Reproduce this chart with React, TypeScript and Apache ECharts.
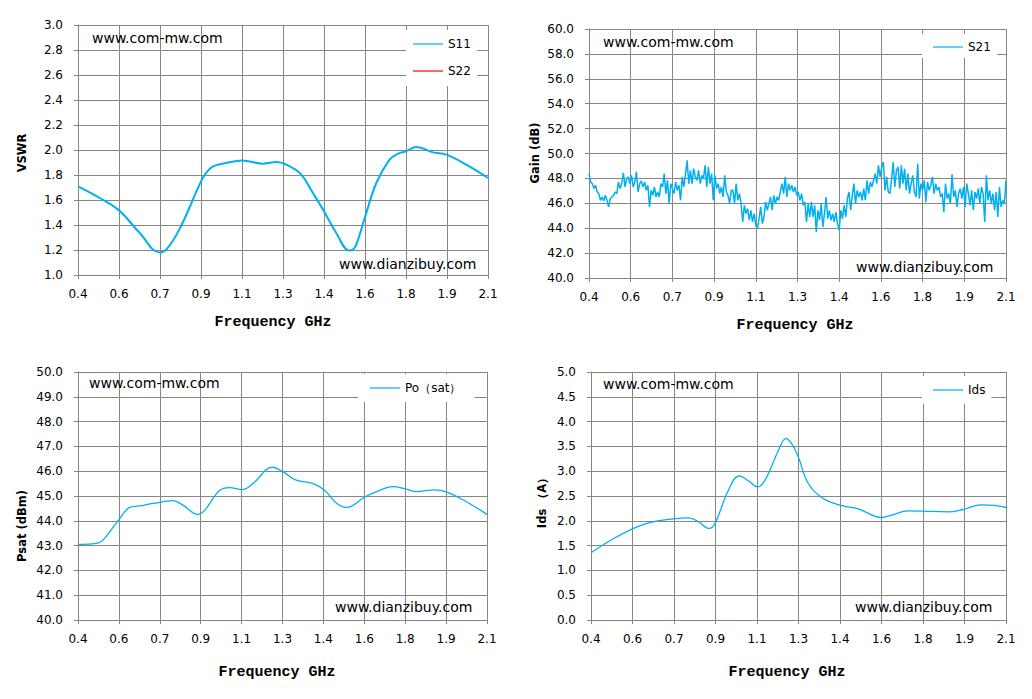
import React, { useEffect, useRef } from 'react';
import * as echarts from 'echarts';

// x axis: 11 evenly spaced ticks from 0.4 to 2.1 GHz, labels rounded to 1 decimal
const freqTickLabels = ['0.4', '0.6', '0.7', '0.9', '1.1', '1.3', '1.4', '1.6', '1.8', '1.9', '2.1'];
const F_START = 0.4;
const F_STOP = 2.1;
const TICK_STEP = 0.17;

// VSWR
const s11Freq = [0.4, 0.49, 0.57, 0.656, 0.739, 0.766, 0.82, 0.91, 0.931, 0.96, 1.015, 1.08, 1.167, 1.222, 1.278, 1.326, 1.374, 1.416, 1.471, 1.524, 1.54, 1.554, 1.589, 1.637, 1.692, 1.727, 1.759, 1.803, 1.872, 1.927, 2.01, 2.1];
const s11Vswr = [1.709, 1.616, 1.517, 1.336, 1.181, 1.203, 1.363, 1.749, 1.816, 1.869, 1.896, 1.917, 1.891, 1.904, 1.869, 1.803, 1.656, 1.523, 1.336, 1.197, 1.203, 1.243, 1.456, 1.736, 1.923, 1.971, 1.989, 2.024, 1.981, 1.963, 1.883, 1.776];
const s22Vswr: number[][] = [];

// Gain, sweep points evenly spaced from 0.4 to 2.1 GHz
const s21Gain = [
  48.38, 47.71, 47.58, 47.18, 47.45, 46.91, 46.78, 46.24, 46.51, 46.19, 46.64, 46.24, 45.71, 46.38, 46.51, 46.64, 46.91, 46.78, 47.71, 47.18,
  47.58, 48.44, 47.31, 47.98, 48.12, 47.58, 48.25, 47.31, 47.71, 48.52, 46.91, 47.58, 47.79, 47.31, 47.71, 47.04, 47.45, 45.71, 47.04, 46.64,
  47.31, 46.51, 46.91, 46.51, 47.58, 47.31, 48.38, 46.78, 47.85, 45.97, 47.58, 47.18, 46.78, 47.71, 47.04, 47.45, 46.24, 48.12, 47.31, 48.33,
  49.45, 47.58, 48.65, 47.58, 48.78, 48.12, 47.85, 48.65, 47.58, 48.25, 47.98, 49.05, 47.31, 48.92, 47.58, 48.38, 46.24, 48.25, 47.18, 47.58,
  46.78, 47.31, 46.51, 48.25, 46.91, 46.64, 45.97, 47.04,
  47.04, 45.97, 47.58, 46.24, 46.78, 45.97, 44.5, 45.84, 45.17, 45.57, 44.64, 45.44, 44.5, 45.17, 44.23, 43.97, 44.77, 45.71, 44.37, 44.9,
  46.11, 45.44, 45.97, 46.51, 45.44, 46.64, 45.97, 46.51, 46.24, 46.91, 47.58, 46.78, 48.12, 46.51, 47.58, 47.04, 47.45, 46.91, 47.31, 46.64,
  46.91, 46.24, 46.78, 45.84, 46.11, 44.5, 45.97, 44.9, 46.11, 44.9, 45.84, 43.7, 45.44, 44.64, 45.97, 44.1, 45.17, 46.51, 44.77, 45.44,
  44.64, 45.17, 44.5, 45.3, 44.37, 43.83, 45.44, 44.77, 45.84, 44.9, 46.38, 46.91, 45.44, 46.64, 47.58, 45.97, 47.04, 46.51, 46.91, 46.24,
  47.18,
  46.24, 47.85, 46.78, 47.71, 47.31, 47.85, 48.38, 47.58, 49.05, 48.12, 48.92, 49.32, 47.04, 48.12, 46.91, 46.78, 47.85, 49.32, 47.31, 48.65,
  48.92, 47.18, 49.05, 47.58, 48.78, 47.04, 48.38, 46.78, 47.58, 48.25, 46.91, 46.51, 49.19, 46.38, 47.58, 47.04, 47.85, 46.11, 47.71, 47.04,
  47.45, 48.12, 46.78, 47.58, 47.04, 47.31, 46.51, 46.78, 45.3, 47.58, 46.38, 46.78, 45.97, 48.33, 46.51, 47.04, 45.71, 46.78, 47.18, 46.38,
  47.31, 45.71, 47.58, 46.78, 45.84, 47.04, 45.44, 46.91, 46.38, 47.18, 45.97, 47.31, 46.78, 44.5, 48.25, 46.24, 47.04, 45.97, 46.78, 45.44,
  46.91, 44.9, 47.31, 45.71, 46.24, 45.97, 47.85,
];

// Psat (dBm)
const poFreq = [0.4, 0.476, 0.504, 0.57, 0.615, 0.656, 0.712, 0.795, 0.836, 0.899, 0.927, 0.989, 1.03, 1.082, 1.127, 1.208, 1.252, 1.307, 1.377, 1.425, 1.474, 1.515, 1.594, 1.654, 1.709, 1.765, 1.806, 1.882, 1.931, 2.014, 2.1];
const poSat = [43.05, 43.09, 43.22, 44.05, 44.54, 44.6, 44.7, 44.81, 44.63, 44.26, 44.43, 45.23, 45.34, 45.26, 45.5, 46.16, 45.97, 45.64, 45.5, 45.23, 44.72, 44.54, 44.97, 45.23, 45.38, 45.28, 45.18, 45.25, 45.17, 44.77, 44.26];

// Ids (A)
const idsFreq = [0.4, 0.486, 0.57, 0.636, 0.738, 0.8, 0.84, 0.884, 0.908, 0.963, 1.007, 1.045, 1.082, 1.113, 1.168, 1.198, 1.222, 1.249, 1.29, 1.345, 1.42, 1.495, 1.59, 1.631, 1.699, 1.761, 1.863, 1.924, 1.999, 2.053, 2.1];
const idsA = [1.356, 1.624, 1.839, 1.96, 2.04, 2.06, 1.98, 1.846, 1.946, 2.617, 2.906, 2.805, 2.685, 2.819, 3.423, 3.658, 3.557, 3.289, 2.752, 2.47, 2.315, 2.242, 2.067, 2.114, 2.2, 2.195, 2.181, 2.228, 2.322, 2.309, 2.268];

const LINE_BLUE = '#00B0F0';
const GRID_C = '#868686';
const FONT = 'DejaVu Sans';

const toTick = (f: number) => (f - F_START) / TICK_STEP;
const pairs = (fs: number[], vs: number[]) => fs.map((f, i) => [toTick(f), vs[i]]);

const xAxisFor = (gridIndex: number) => ({
  type: 'value',
  gridIndex,
  min: 0,
  max: 10,
  interval: 1,
  axisLine: { show: true, lineStyle: { color: GRID_C } },
  axisTick: { show: true, length: 4, lineStyle: { color: GRID_C } },
  splitLine: { show: true, lineStyle: { color: GRID_C, width: 1 } },
  axisLabel: {
    margin: 13,
    fontFamily: FONT,
    fontSize: 12,
    color: '#000',
    formatter: (v: number) => freqTickLabels[Math.round(v)],
  },
});

const yAxisFor = (gridIndex: number, min: number, max: number, interval: number) => ({
  type: 'value',
  gridIndex,
  min,
  max,
  interval,
  axisLine: { show: true, lineStyle: { color: GRID_C } },
  axisTick: { show: true, length: 4, lineStyle: { color: GRID_C } },
  splitLine: { show: true, lineStyle: { color: GRID_C, width: 1 } },
  axisLabel: {
    margin: 15,
    fontFamily: FONT,
    fontSize: 12,
    color: '#000',
    formatter: (v: number) => v.toFixed(1),
  },
});

const legendFor = (names: string[], left: number, top: number, padding: number[]) => ({
  data: names,
  left,
  top,
  orient: 'vertical',
  icon: 'rect',
  padding,
  itemGap: 13,
  itemWidth: 30,
  itemHeight: 1.2,
  selectedMode: false,
  backgroundColor: '#fff',
  textStyle: { fontFamily: FONT, fontSize: 12, color: '#000', lineHeight: 14 },
});

const text = (t: string, x: number, y: number, extra: any = {}) => ({
  type: 'text',
  x,
  y,
  z: 100,
  style: { text: t, fill: '#000', fontFamily: FONT, fontSize: 14, align: 'left', verticalAlign: 'middle', ...extra },
});

const yTitle = (t: string, x: number, y: number) => ({
  type: 'text',
  x,
  y,
  rotation: Math.PI / 2,
  z: 100,
  style: { text: t, fill: '#000', fontFamily: FONT, fontSize: 11.5, fontWeight: 'bold', align: 'center', verticalAlign: 'middle' },
});

const xTitle = (x: number, y: number) => ({
  type: 'text',
  x,
  y,
  z: 100,
  style: { text: 'Frequency GHz', fill: '#000', fontFamily: 'Liberation Mono', fontSize: 15, fontWeight: 'bold', align: 'center', verticalAlign: 'middle' },
});

const App: React.FC = () => {
  const chartRef = useRef<HTMLDivElement>(null);

  useEffect(() => {
    document.body.style.margin = '0';
    const chart = echarts.init(chartRef.current!, null, { renderer: 'svg' });

    const s21Data = s21Gain.map((v, i) => [toTick(F_START + ((F_STOP - F_START) * i) / (s21Gain.length - 1)), v]);

    const options = {
      animation: false,
      backgroundColor: '#fff',
      grid: [
        { left: 78, top: 25, width: 410, height: 250 },
        { left: 589, top: 29, width: 417, height: 249 },
        { left: 78, top: 372, width: 409, height: 248 },
        { left: 591, top: 372, width: 415, height: 248 },
      ],
      xAxis: [xAxisFor(0), xAxisFor(1), xAxisFor(2), xAxisFor(3)],
      yAxis: [
        yAxisFor(0, 1, 3, 0.2),
        yAxisFor(1, 40, 60, 2),
        yAxisFor(2, 40, 50, 1),
        yAxisFor(3, 0, 5, 0.5),
      ],
      legend: [
        legendFor(['S11', 'S22'], 406, 30, [7, 6, 8, 7]),
        legendFor(['S21'], 922, 34, [6, 6, 4, 11]),
        legendFor(['Po（sat）'], 358, 374, [7, 13, 7, 12]),
        legendFor(['Ids'], 922, 376, [7, 6, 7, 11]),
      ],
      series: [
        {
          name: 'S11', type: 'line', xAxisIndex: 0, yAxisIndex: 0, symbol: 'none', smooth: 0.4,
          color: LINE_BLUE, lineStyle: { width: 2, color: LINE_BLUE }, data: pairs(s11Freq, s11Vswr),
        },
        {
          name: 'S22', type: 'line', xAxisIndex: 0, yAxisIndex: 0, symbol: 'none',
          color: '#FF0000', lineStyle: { width: 1, color: '#FF0000' }, data: s22Vswr,
        },
        {
          name: 'S21', type: 'line', xAxisIndex: 1, yAxisIndex: 1, symbol: 'none',
          color: LINE_BLUE, lineStyle: { width: 1.5, color: LINE_BLUE }, data: s21Data,
        },
        {
          name: 'Po（sat）', type: 'line', xAxisIndex: 2, yAxisIndex: 2, symbol: 'none', smooth: 0.4,
          color: LINE_BLUE, lineStyle: { width: 1.3, color: LINE_BLUE }, data: pairs(poFreq, poSat),
        },
        {
          name: 'Ids', type: 'line', xAxisIndex: 3, yAxisIndex: 3, symbol: 'none', smooth: 0.4,
          color: LINE_BLUE, lineStyle: { width: 1.3, color: LINE_BLUE }, data: pairs(idsFreq, idsA),
        },
      ],
      graphic: [
        text('www.com-mw.com', 92, 38),
        text('www.dianzibuy.com', 339, 264),
        text('www.com-mw.com', 603, 42),
        text('www.dianzibuy.com', 856, 267),
        text('www.com-mw.com', 89, 383),
        text('www.dianzibuy.com', 335, 607),
        text('www.com-mw.com', 603, 384),
        text('www.dianzibuy.com', 855, 607),
        yTitle('VSWR', 22, 153),
        yTitle('Gain (dB)', 535, 153),
        yTitle('Psat (dBm)', 22, 526),
        yTitle('Ids （A）', 542, 500),
        xTitle(273, 322),
        xTitle(795, 325),
        xTitle(277, 672),
        xTitle(787, 672),
      ],
    };

    chart.setOption(options as any);

    return () => {
      chart.dispose();
    };
  }, []);

  return <div ref={chartRef} style={{ width: '1032px', height: '699px' }}></div>;
};

export default App;
